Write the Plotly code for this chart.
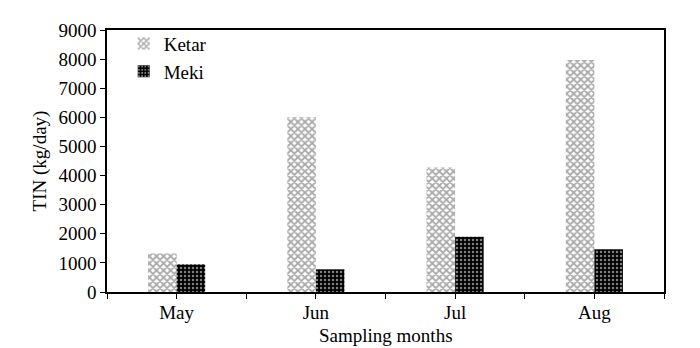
import plotly.graph_objects as go

months = ["May", "Jun", "Jul", "Aug"]
ketar = [1330, 6000, 4280, 7970]
meki = [950, 780, 1900, 1470]
y_ticks = [0, 1000, 2000, 3000, 4000, 5000, 6000, 7000, 8000, 9000]

xpos = list(range(len(months)))
font = dict(family="Liberation Serif", size=19, color="black")

fig = go.Figure()
fig.add_trace(go.Bar(
    x=xpos, y=ketar, name="Ketar", legendgroup="k",
    marker=dict(color="white", line=dict(width=0),
                pattern=dict(shape="x", fgcolor="#555", bgcolor="white", size=5, solidity=0.6)),
))
fig.add_trace(go.Bar(
    x=xpos, y=meki, name="Meki", legendgroup="m",
    marker=dict(color="black", line=dict(width=0),
                pattern=dict(shape=".", fgcolor="white", bgcolor="black", size=4, solidity=0.3)),
))

tickvals = []
ticktext = []
for i, m in enumerate(months):
    tickvals += [i - 0.5, i]
    ticktext += ["", m]
tickvals.append(len(months) - 0.5)
ticktext.append("")

fig.update_layout(
    width=700, height=348,
    margin=dict(l=107, r=36, t=30, b=56),
    paper_bgcolor="white", plot_bgcolor="white",
    font=font,
    barmode="group", bargap=0.59, bargroupgap=0,
    showlegend=True,
    legend=dict(x=0.03, y=1.02, xanchor="left", yanchor="top",
                bgcolor="rgba(0,0,0,0)", font=dict(size=19, family="Liberation Serif"),
                itemwidth=30, tracegroupgap=0),
    xaxis=dict(
        range=[-0.5, len(months) - 0.5], automargin=False,
        tickmode="array", tickvals=tickvals, ticktext=ticktext,
        ticks="outside", ticklen=5, tickcolor="black",
        showline=True, linecolor="black", linewidth=1.5, mirror=True,
        showgrid=False, zeroline=False, ticklabelstandoff=-3,
        tickfont=dict(family="Liberation Serif", size=19),
    ),
    yaxis=dict(
        range=[0, 9000], tickvals=y_ticks, automargin=False,
        ticks="outside", ticklen=5, tickcolor="black",
        showline=True, linecolor="black", linewidth=1.5, mirror=True,
        showgrid=False, zeroline=False,
        tickfont=dict(family="Liberation Serif", size=19),
        title=dict(text="TIN (kg/day)", standoff=7,
                   font=dict(size=19, family="Liberation Serif")),
    ),
    annotations=[dict(
        text="Sampling months", xref="paper", yref="paper",
        x=0.5, y=-0.165, xanchor="center", yanchor="middle", showarrow=False,
        font=dict(size=19, family="Liberation Serif"),
    )],
)

fig.write_html("out.html")
